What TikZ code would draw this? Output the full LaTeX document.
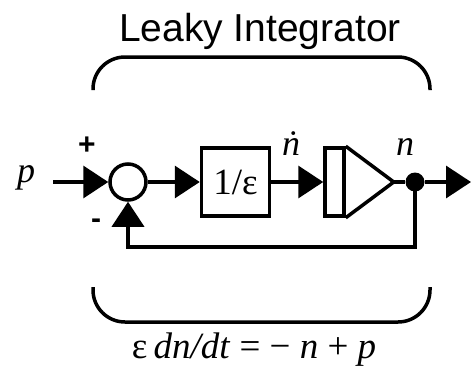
\documentclass[tikz,border=0pt]{standalone}
\usepackage{fontspec}
\setmainfont{Liberation Serif}
\newfontfamily\titlefont{Liberation Sans}
\usetikzlibrary{arrows.meta,positioning}

\begin{document}
\begin{tikzpicture}[
    x=1pt, y=-1pt,
    sumnode/.style={draw, circle, line width=3.5pt, minimum size=36pt, inner sep=0pt},
    gainbox/.style={draw, line width=3.5pt, minimum width=68pt, minimum height=68pt, inner sep=0pt, font=\fontsize{37}{40}\selectfont},
    intbar/.style={draw, line width=3.5pt, minimum width=19pt, minimum height=68pt, inner sep=0pt},
    dotnode/.style={circle, fill, minimum size=19pt, inner sep=0pt},
    arrow/.style={-{Triangle[length=25pt, width=32pt]}, line width=3.5pt},
    wire/.style={line width=3.5pt},
    lbl/.style={font=\fontsize{36}{40}\selectfont\itshape},
    brace/.style={line width=3.5pt, rounded corners=32pt}
]
\useasboundingbox (0,0) rectangle (472,370);

\node[sumnode] (sum) at (128,182) {};
\node[gainbox, right=52pt of sum] (gain) {1/ε};
\node[intbar, right=52pt of gain] (integ) {};
\node[dotnode] (tap) at (415,182) {};
\coordinate (pin) at (53,182);
\coordinate (pout) at (471,182);
\coordinate (fb) at (128,247);

% integrator triangle
\draw[wire] (integ.north east) -- ([xshift=48pt]integ.east) coordinate (apex) -- (integ.south east);

\draw[arrow] (pin) -- (sum);
\draw[arrow] (sum) -- (gain);
\draw[arrow] (gain) -- (integ);
\draw[wire] (apex) -- (tap);
\draw[arrow] (tap) -- (pout);
\draw[arrow] (tap.center) |- (fb) -- (sum.south);

% labels
\node[lbl, anchor=base] (plbl) at (26,182) {p};
\node[font=\titlefont\bfseries\fontsize{30}{32}\selectfont] (plus) at (87,146) {+};
\node[font=\titlefont\bfseries\fontsize{30}{32}\selectfont] (minus) at (96,224) {-};
\node[lbl, anchor=base] (ndot) at (291,155) {ṅ};
\node[lbl, anchor=base] (nlbl) at (405,155) {n};

% braces
\node[font=\titlefont\fontsize{39}{44}\selectfont, anchor=base] (title) at (260,41) {Leaky Integrator};
\draw[brace] (93,90) -- (93,57) -- (430,57) -- (430,90);
\draw[brace] (93,287) -- (93,322) -- (430,322) -- (430,287);
\node[font=\fontsize{37}{40}\selectfont, anchor=base] (eqn) at (254,358) {ε\,\textit{dn/dt} = − \textit{n} + \textit{p}};

\end{tikzpicture}
\end{document}
